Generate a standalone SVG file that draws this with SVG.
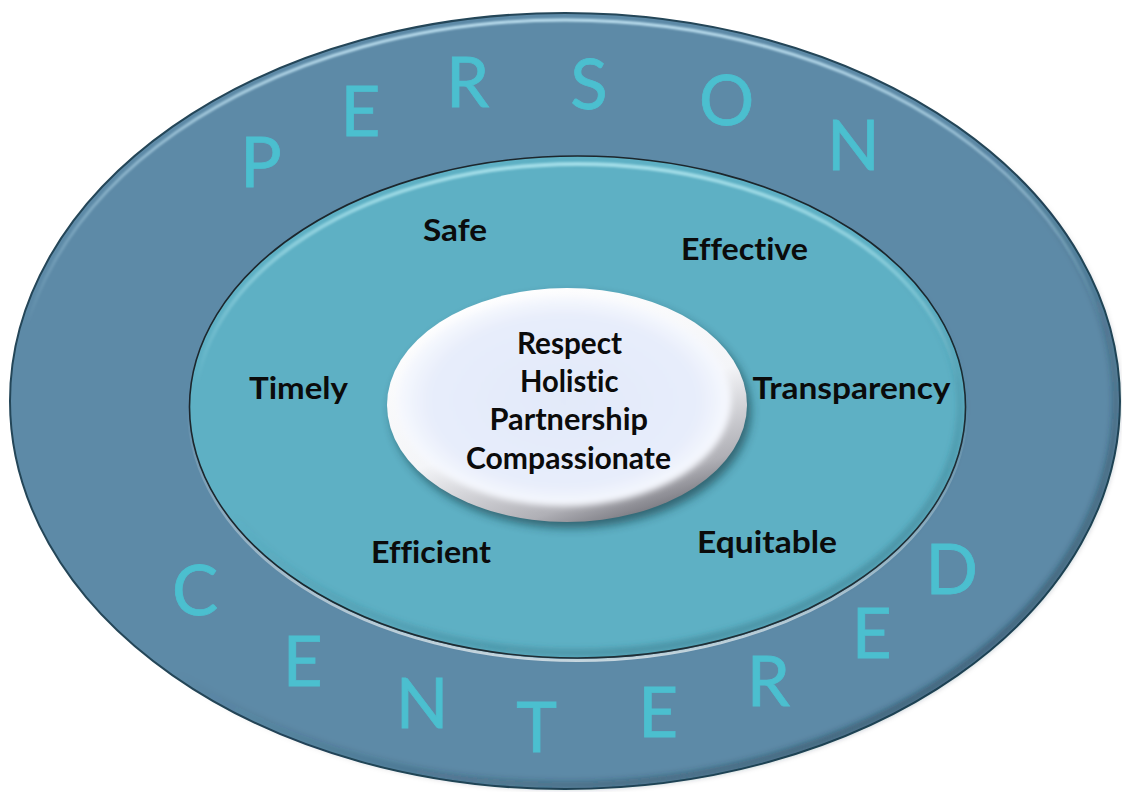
<svg xmlns="http://www.w3.org/2000/svg" width="1122" height="792" viewBox="0 0 1122 792">
<defs>
<style>
.ring { font-family: Lato, "Open Sans", "Liberation Sans", sans-serif; font-size: 69px; fill: #4bbfcf; stroke: #4bbfcf; stroke-width: 0.8px; text-anchor: middle; font-variant-ligatures: none; }
.lbl { font-family: Lato, "Open Sans", "Liberation Sans", sans-serif; font-weight: 700; font-size: 30px; fill: #0b0b0b; font-variant-ligatures: none; font-feature-settings: "liga" 0, "dlig" 0; }
</style>
<linearGradient id="outerHi" x1="0" y1="0" x2="0" y2="1">
<stop offset="0" stop-color="#c4e6f5" stop-opacity="0.95"/>
<stop offset="0.4" stop-color="#c4e6f5" stop-opacity="0"/>
</linearGradient>
<linearGradient id="outerSh" x1="0" y1="0" x2="1" y2="1">
<stop offset="0.5" stop-color="#16323f" stop-opacity="0"/>
<stop offset="1" stop-color="#16323f" stop-opacity="0.75"/>
</linearGradient>
<linearGradient id="innerHi" x1="0" y1="0" x2="0" y2="1">
<stop offset="0" stop-color="#a6e0ea" stop-opacity="0.95"/>
<stop offset="0.45" stop-color="#a6e0ea" stop-opacity="0"/>
</linearGradient>
<linearGradient id="innerUnder" x1="0" y1="0" x2="0" y2="1">
<stop offset="0.5" stop-color="#e6ecef" stop-opacity="0"/>
<stop offset="1" stop-color="#e6ecef" stop-opacity="0.8"/>
</linearGradient>
<linearGradient id="innerSh" x1="0" y1="0" x2="0.6" y2="1">
<stop offset="0.55" stop-color="#2c6676" stop-opacity="0"/>
<stop offset="1" stop-color="#2c6676" stop-opacity="0.5"/>
</linearGradient>
<linearGradient id="rim" x1="0.25" y1="0" x2="0.75" y2="1">
<stop offset="0" stop-color="#ffffff"/>
<stop offset="0.55" stop-color="#f4f5f8"/>
<stop offset="0.85" stop-color="#b0b0b6"/>
<stop offset="1" stop-color="#66666e"/>
</linearGradient>
<radialGradient id="face" cx="0.5" cy="0.5" r="0.5">
<stop offset="0" stop-color="#e2e9f9"/>
<stop offset="0.8" stop-color="#e7edfb"/>
<stop offset="1" stop-color="#f7f9fe"/>
</radialGradient>
<filter id="b1" x="-5%" y="-5%" width="110%" height="110%"><feGaussianBlur stdDeviation="1.2"/></filter>
<filter id="b3" x="-5%" y="-5%" width="110%" height="110%"><feGaussianBlur stdDeviation="3"/></filter>
<filter id="shadow" x="-15%" y="-15%" width="130%" height="130%"><feGaussianBlur stdDeviation="5"/></filter>
</defs>

<g id="outer-ring">
<ellipse cx="565" cy="401" rx="555" ry="388" fill="#5d8aa7" stroke="#244658" stroke-width="2"/>
<ellipse cx="565" cy="401" rx="551" ry="384" fill="none" stroke="url(#outerSh)" stroke-width="6" filter="url(#b3)"/>
<ellipse cx="565" cy="402" rx="549" ry="382" fill="none" stroke="url(#outerHi)" stroke-width="3" filter="url(#b1)"/>
</g>

<g id="inner-ring">
<ellipse cx="577.5" cy="408.5" rx="389" ry="252" fill="none" stroke="url(#innerUnder)" stroke-width="3"/>
<ellipse cx="577.5" cy="407" rx="388" ry="251" fill="#5eb0c4" stroke="#1c262c" stroke-width="1.6"/>
<ellipse cx="577.5" cy="407" rx="383" ry="246" fill="none" stroke="url(#innerSh)" stroke-width="6" filter="url(#b3)"/>
<ellipse cx="577.5" cy="408" rx="382" ry="244" fill="none" stroke="url(#innerHi)" stroke-width="4" filter="url(#b1)"/>
</g>

<g id="core">
<ellipse cx="571" cy="411" rx="180" ry="117" fill="#0d2a33" opacity="0.55" filter="url(#shadow)"/>
<ellipse cx="567" cy="405" rx="180" ry="117" fill="url(#rim)"/>
<ellipse cx="564" cy="401" rx="167" ry="105" fill="url(#face)" filter="url(#b3)"/>
</g>

<g id="person-centered">
<text class="ring" x="261" y="187">P</text>
<text class="ring" x="360.5" y="136">E</text>
<text class="ring" x="467.5" y="107">R</text>
<text class="ring" x="589" y="108.5">S</text>
<text class="ring" x="726.7" y="125">O</text>
<text class="ring" x="853.3" y="170">N</text>
<text class="ring" x="195" y="615">C</text>
<text class="ring" x="302.8" y="686">E</text>
<text class="ring" x="422.2" y="728.3">N</text>
<text class="ring" x="536.5" y="751.7">T</text>
<text class="ring" x="658.3" y="737.3">E</text>
<text class="ring" x="768.4" y="705.5">R</text>
<text class="ring" x="871.7" y="658.3">E</text>
<text class="ring" x="951.7" y="594">D</text>
</g>

<g id="label-safe"><text class="lbl" x="423" y="241" textLength="64" lengthAdjust="spacingAndGlyphs">Safe</text></g>
<g id="label-effective"><text class="lbl" x="681" y="259.5" textLength="127" lengthAdjust="spacingAndGlyphs">Effective</text></g>
<g id="label-timely"><text class="lbl" x="249" y="398.5" textLength="99" lengthAdjust="spacingAndGlyphs">Timely</text></g>
<g id="label-transparency"><text class="lbl" x="752.5" y="398.5" textLength="198" lengthAdjust="spacingAndGlyphs">Transparency</text></g>
<g id="label-efficient"><text class="lbl" x="371" y="563" textLength="120" lengthAdjust="spacingAndGlyphs">Efficient</text></g>
<g id="label-equitable"><text class="lbl" x="697" y="553" textLength="140" lengthAdjust="spacingAndGlyphs">Equitable</text></g>

<g id="core-values">
<text class="lbl" x="517" y="354" textLength="105" lengthAdjust="spacingAndGlyphs">Respect</text>
<text class="lbl" x="520" y="392" textLength="98.5" lengthAdjust="spacingAndGlyphs">Holistic</text>
<text class="lbl" x="489.5" y="430" textLength="158.5" lengthAdjust="spacingAndGlyphs">Partnership</text>
<text class="lbl" x="466" y="468.5" textLength="205" lengthAdjust="spacingAndGlyphs">Compassionate</text>
</g>
</svg>
